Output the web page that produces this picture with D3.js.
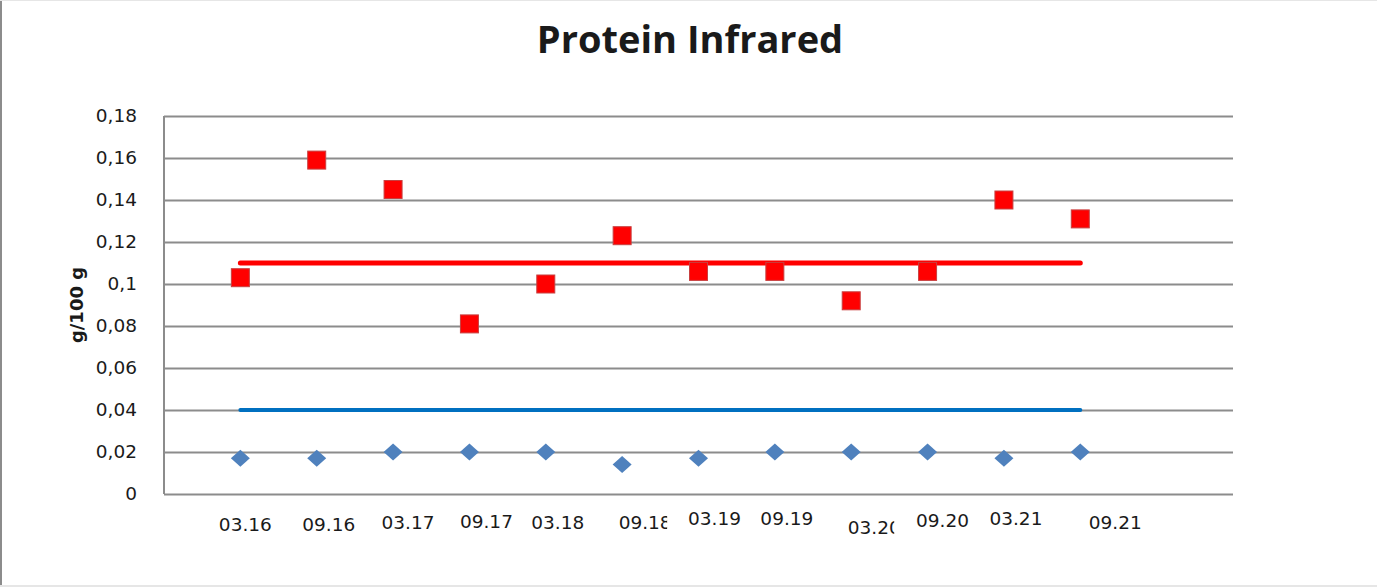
<!DOCTYPE html>
<html>
<head>
<meta charset="utf-8">
<script src="https://cdn.jsdelivr.net/npm/d3@7"></script>
<style>
  body { margin: 0; background: #fff; }
  svg { display: block; }
  text { fill: #1a1a1a; }
</style>
</head>
<body>
<svg width="1377" height="587"></svg>
<script>
// data
var periods = ["03.16", "09.16", "03.17", "09.17", "03.18", "09.18", "03.19", "09.19", "03.20", "09.20", "03.21", "09.21"];
var infrared = [0.103, 0.159, 0.145, 0.081, 0.100, 0.123, 0.106, 0.106, 0.092, 0.106, 0.140, 0.131];
var lowValues = [0.017, 0.017, 0.020, 0.020, 0.020, 0.014, 0.017, 0.020, 0.020, 0.020, 0.017, 0.020];
var upperLimit = 0.11;
var lowerLimit = 0.04;
var yTicks = [0, 0.02, 0.04, 0.06, 0.08, 0.1, 0.12, 0.14, 0.16, 0.18];

// the category labels sit a bit off their points in the original (and two are cut off)
var labelNudge = [
  {dx: 5, dy: 37, clip: null}, {dx: 12, dy: 37, clip: null}, {dx: 15, dy: 35, clip: null},
  {dx: 17, dy: 34, clip: null}, {dx: 12, dy: 35, clip: null}, {dx: 23, dy: 35, clip: 49},
  {dx: 16, dy: 31, clip: null}, {dx: 12, dy: 31, clip: null}, {dx: 23, dy: 40, clip: 47},
  {dx: 15, dy: 33, clip: null}, {dx: 12, dy: 31, clip: null}, {dx: 35, dy: 35, clip: null}
];

var svg = d3.select("svg"),
  margin = {top: 116, right: 144, bottom: 93, left: 164},
  width = +svg.attr("width") - margin.left - margin.right,
  height = +svg.attr("height") - margin.top - margin.bottom;

// outer frame
svg.append("line").attr("x1", 1).attr("x2", 1).attr("y1", 0).attr("y2", 587)
  .attr("stroke", "#8c8c8c").attr("stroke-width", 2);
svg.append("line").attr("x1", 0).attr("x2", 1377).attr("y1", 0.5).attr("y2", 0.5)
  .attr("stroke", "#e6e6e6");
svg.append("line").attr("x1", 0).attr("x2", 1377).attr("y1", 586).attr("y2", 586)
  .attr("stroke", "#e6e6e6").attr("stroke-width", 2);

var g = svg.append("g").attr("transform", "translate(" + margin.left + "," + margin.top + ")");

var x = d3.scaleLinear().domain([0, periods.length + 2]).range([0, width]);
var y = d3.scaleLinear().domain([0, 0.18]).range([height, 0]);

// gridlines + y labels
var yAxis = g.append("g")
  .call(d3.axisLeft(y).tickValues(yTicks).tickSize(-width).tickPadding(27)
    .tickFormat(function(d) { return d3.format(".2~f")(d).replace(".", ","); }));
yAxis.select(".domain").remove();
yAxis.selectAll(".tick line").attr("stroke", "#8c8c8c").attr("stroke-width", 2);
yAxis.selectAll(".tick text")
  .attr("font-family", "DejaVu Sans").attr("font-size", 18.5).attr("fill", "#1a1a1a");

// left axis line
g.append("line").attr("x1", 0).attr("x2", 0).attr("y1", 0).attr("y2", height)
  .attr("stroke", "#8c8c8c").attr("stroke-width", 2);

// limit lines
function limitLine(v, colour, w) {
  g.append("line")
    .attr("x1", x(1)).attr("x2", x(periods.length))
    .attr("y1", y(v)).attr("y2", y(v))
    .attr("stroke", colour).attr("stroke-width", w).attr("stroke-linecap", "round");
}
limitLine(upperLimit, "#ff0000", 5);
limitLine(lowerLimit, "#0070c0", 4);

// red squares
g.selectAll(".sq").data(infrared).enter().append("rect")
  .attr("class", "sq")
  .attr("x", function(d, i) { return x(i + 1) - 9; })
  .attr("y", function(d) { return y(d) - 9; })
  .attr("width", 18).attr("height", 18)
  .attr("fill", "#ff0000").attr("stroke", "#c84040").attr("stroke-width", 1);

// blue diamonds
g.selectAll(".dm").data(lowValues).enter().append("path")
  .attr("class", "dm")
  .attr("transform", function(d, i) { return "translate(" + x(i + 1) + "," + y(d) + ")"; })
  .attr("d", "M0,-8.5L9.5,0L0,8.5L-9.5,0Z")
  .attr("fill", "#4f81bd");

// x labels
var defs = svg.append("defs");
var xl = g.append("g").attr("font-family", "DejaVu Sans").attr("font-size", 18.5);
periods.forEach(function(p, i) {
  var n = labelNudge[i];
  var cx = x(i + 1) + n.dx;
  var t = xl.append("text")
    .attr("x", cx).attr("y", height + n.dy)
    .attr("text-anchor", "middle")
    .attr("fill", "#1a1a1a")
    .text(p);
  if (n.clip) {
    // clip box is in the group's own coordinates
    var id = "clip" + i;
    defs.append("clipPath").attr("id", id)
      .append("rect")
      .attr("x", cx - 32).attr("y", height + 5)
      .attr("width", n.clip + 5).attr("height", 60);
    t.attr("clip-path", "url(#" + id + ")");
  }
});

// y title
svg.append("text")
  .attr("transform", "translate(83,305) rotate(-90)")
  .attr("text-anchor", "middle")
  .attr("font-family", "DejaVu Sans").attr("font-weight", "bold").attr("font-size", 18)
  .text("g/100 g");

// title
svg.append("text")
  .attr("x", 690).attr("y", 53)
  .attr("text-anchor", "middle")
  .attr("font-family", "Open Sans").attr("font-weight", "bold").attr("font-size", 38)
  .attr("fill", "#000")
  .text("Protein Infrared");
</script>
</body>
</html>
